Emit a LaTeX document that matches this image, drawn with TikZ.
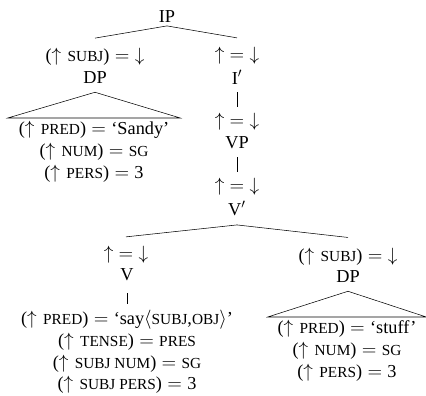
\documentclass[tikz,border=0pt]{standalone}
\usepackage{fontspec}
\setmainfont{Liberation Serif}
\usepackage{tikz}

\newcommand{\fsc}[1]{{\fontsize{11.5}{10}\selectfont #1}}
\newcommand{\upa}{$\uparrow$\hspace{0.35em}}
\newcommand{\eq}{${}={}$}
\newcommand{\updown}{$\mathord{\uparrow}=\mathord{\downarrow}$}

\begin{document}
\begin{tikzpicture}[x=0.75pt, y=-0.75pt, font=\fontsize{13.7}{16.4}\selectfont,
    cat/.style={inner sep=0pt},
    ann/.style={inner sep=0pt},
    fs/.style={inner xsep=0pt, inner ysep=2pt, align=center, anchor=north},
    unary/.style={shorten <=6pt, shorten >=5pt}]

    \useasboundingbox (0,0) rectangle (426,396);

    % top of the tree
    \node[cat] (IP) at (167,17) {IP};

    % subject DP
    \node[ann] (aSubj) at (95,57) {(\upa\fsc{SUBJ})\eq$\downarrow$};
    \node[cat] (DPsubj) at (95,78) {DP};
    \node[fs, minimum width=129pt] (fsSandy) at (94,118)
        {(\upa\fsc{PRED})\eq`Sandy'\\(\upa\fsc{NUM})\eq\fsc{SG}\\(\upa\fsc{PERS})\eq 3};

    % head spine
    \node[ann] (aI) at (237,56) {\updown};
    \node[cat] (Ibar) at (237,77) {I$'$};
    \node[ann] (aVP) at (237,122) {\updown};
    \node[cat] (VP) at (237,143) {VP};
    \node[ann] (aVbar) at (237,187) {\updown};
    \node[cat] (Vbar) at (237,208) {V$'$};

    % verb
    \node[ann] (aV) at (126,255) {\updown};
    \node[cat] (V) at (127,275) {V};
    \node[fs] (fsSay) at (127,307)
        {(\upa\fsc{PRED})\eq`say$\langle$\fsc{SUBJ},\fsc{OBJ}$\rangle$'\\(\upa\fsc{TENSE})\eq\fsc{PRES}\\(\upa\fsc{SUBJ NUM})\eq\fsc{SG}\\(\upa\fsc{SUBJ PERS})\eq 3};

    % object DP
    \node[ann] (aObj) at (348,257) {(\upa\fsc{SUBJ})\eq$\downarrow$};
    \node[cat] (DPobj) at (348,277) {DP};
    \node[fs, minimum width=118.5pt] (fsStuff) at (347,317)
        {(\upa\fsc{PRED})\eq`stuff'\\(\upa\fsc{NUM})\eq\fsc{SG}\\(\upa\fsc{PERS})\eq 3};

    % branches
    \draw ([yshift=-2pt]IP.south) -- ([yshift=7.5pt]aSubj.north);
    \draw ([yshift=-2pt]IP.south) -- ([yshift=7pt]aI.north);
    \draw[unary] (Ibar.south) -- (aVP.north);
    \draw[unary] (VP.south) -- (aVbar.north);
    \draw ([yshift=-7pt]Vbar.south) -- ([yshift=7pt]aV.north);
    \draw ([yshift=-7pt]Vbar.south) -- ([yshift=8pt]aObj.north);
    \draw[shorten <=9pt, shorten >=2pt] (V.south) -- (fsSay.north);

    % triangles
    \draw (fsSandy.north west) -- (fsSandy.north east) -- ([yshift=-6pt]DPsubj.south) -- cycle;
    \draw (fsStuff.north west) -- (fsStuff.north east) -- ([yshift=-6pt]DPobj.south) -- cycle;
\end{tikzpicture}
\end{document}
